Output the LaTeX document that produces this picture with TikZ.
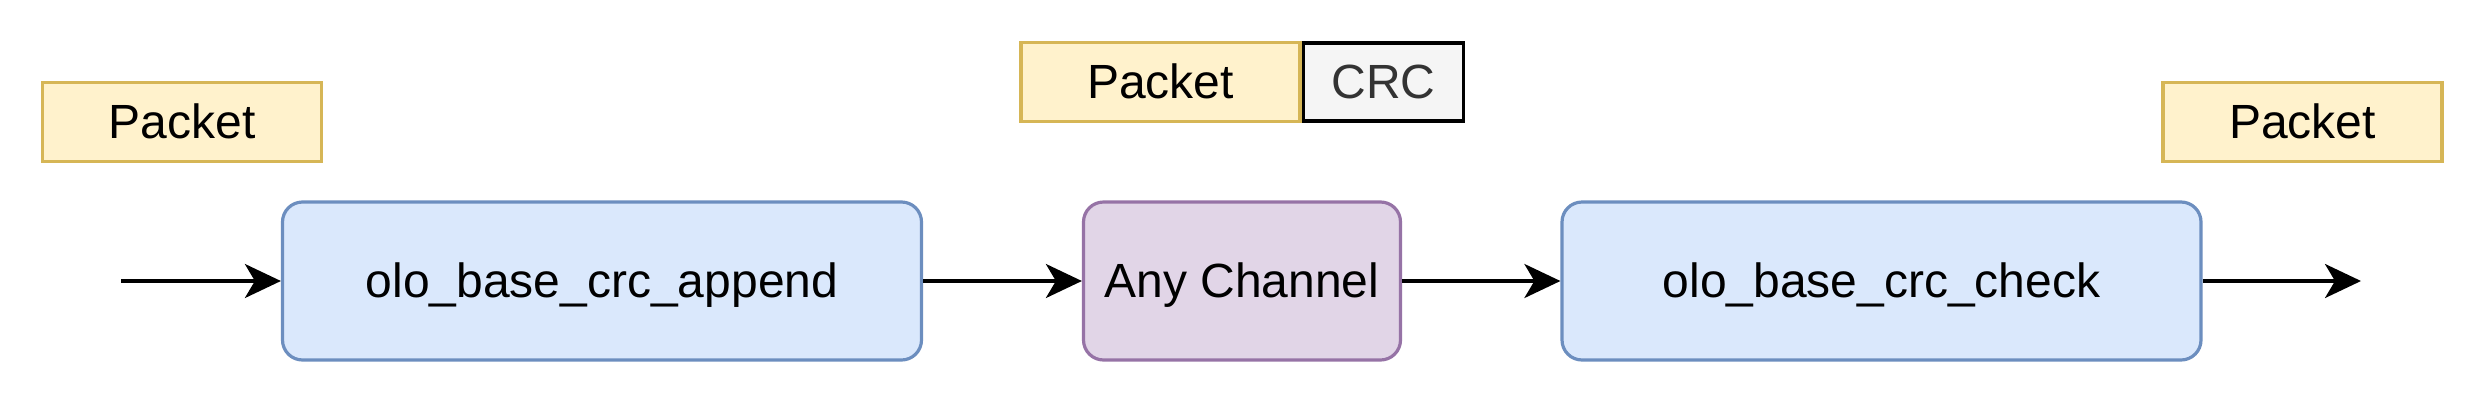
\documentclass[tikz,border=0pt]{standalone}
\usepackage{fontspec}
\setmainfont{Liberation Sans}
\usetikzlibrary{arrows.meta}
\definecolor{pktfill}{HTML}{FFF2CC}
\definecolor{pktline}{HTML}{D6B656}
\definecolor{blkfill}{HTML}{DAE8FC}
\definecolor{blkline}{HTML}{6C8EBF}
\definecolor{chfill}{HTML}{E1D5E7}
\definecolor{chline}{HTML}{9673A6}
\definecolor{crcfill}{HTML}{F5F5F5}
\definecolor{crctext}{HTML}{333333}

\begin{document}
\begin{tikzpicture}[x=1pt, y=-1pt,
  every node/.style={font=\fontsize{48}{58}\selectfont, inner sep=0pt,
    text height=33pt, text depth=0pt},
  pktbox/.style={draw=pktline, fill=pktfill, line width=3.2pt,
    minimum width=279pt, minimum height=79pt},
  crcbox/.style={draw=black, fill=crcfill, text=crctext, line width=3.5pt,
    minimum width=160pt, minimum height=78pt},
  blkbox/.style={draw=blkline, fill=blkfill, line width=3.2pt, rounded corners=20pt,
    minimum width=639pt, minimum height=158pt},
  chanbox/.style={blkbox, draw=chline, fill=chfill, minimum width=317pt},
  flow/.style={line width=3.5pt, -{Stealth[length=36pt, width=34pt, inset=10pt]}},
]
  \useasboundingbox (0,0) rectangle (2484,408);
  \coordinate (src) at (121,281);
  \coordinate (dst) at (2361,281);
  \node[blkbox]  (append) at (602,281)    {olo\_base\_crc\_append};
  \node[chanbox] (chan)   at (1242,281)   {Any Channel};
  \node[blkbox]  (check)  at (1881.5,281) {olo\_base\_crc\_check};
  \node[pktbox]  (pktin)  at (182,122)    {Packet};
  \node[pktbox]  (pktout) at (2302.5,122) {Packet};
  % packet with crc appended
  \node[pktbox]  (pktcrc) at (1160.5,82)  {Packet};
  \node[crcbox, anchor=west] (crc) at (pktcrc.east) {CRC};
  \draw[flow] (src) -- (append);
  \draw[flow] (append) -- (chan);
  \draw[flow] (chan) -- (check);
  \draw[flow] (check) -- (dst);
\end{tikzpicture}
\end{document}
